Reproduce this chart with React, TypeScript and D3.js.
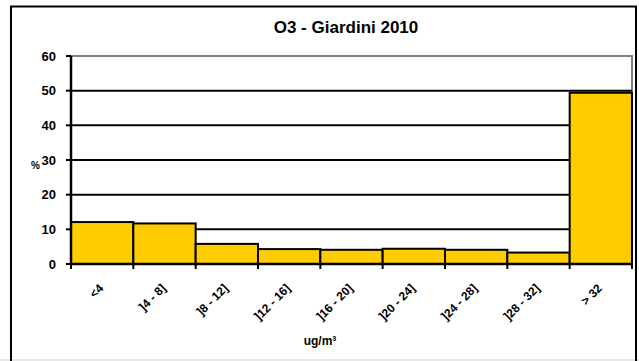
import * as d3 from "d3"

const categories = ["<4", "]4 - 8]", "]8 - 12]", "]12 - 16]", "]16 - 20]", "]20 - 24]", "]24 - 28]", "]28 - 32]", "> 32"]
const percentages = [12.1, 11.7, 5.8, 4.3, 4.1, 4.4, 4.1, 3.3, 49.4]
const yTicks = [0, 10, 20, 30, 40, 50, 60]

const W = 639
const H = 361
const plot = { left: 71, right: 632, top: 56, bottom: 264 }
const font = "Arial, 'Liberation Sans', sans-serif"

export default function App() {
  const x = d3.scaleBand<string>().domain(categories).range([plot.left, plot.right]).padding(0)
  const y = d3.scaleLinear().domain([0, 60]).range([plot.bottom, plot.top])
  const bw = x.bandwidth()

  return (
    <svg width={W} height={H} style={{ position: "absolute", left: 0, top: 0 }} fontFamily={font}>
      <rect x={0} y={0} width={W} height={H} fill="#fff" />
      {/* outer frame */}
      <line x1={0} x2={W} y1={360} y2={360} stroke="#e8e8e8" strokeWidth={2} />
      <path d={`M11,370 V6.5 H636 V370`} fill="none" stroke="#000" strokeWidth={2} />

      <text x={346} y={33} textAnchor="middle" fontSize={17} fontWeight="bold">
        O3 - Giardini 2010
      </text>

      {/* plot area border */}
      <path d={`M${plot.left},${plot.top} H${plot.right} V${plot.bottom}`} fill="none" stroke="#808080" strokeWidth={2} />

      {/* gridlines */}
      {yTicks
        .filter((t) => t > 0 && t < 60)
        .map((t) => (
          <line key={t} x1={plot.left} x2={plot.right} y1={y(t)} y2={y(t)} stroke="#000" strokeWidth={2} />
        ))}

      {/* bars */}
      {categories.map((c, i) => (
        <rect
          key={c}
          x={x(c)}
          y={y(percentages[i])}
          width={bw}
          height={y(0) - y(percentages[i])}
          fill="#FFCC00"
          stroke="#000"
          strokeWidth={2}
        />
      ))}

      {/* y axis */}
      <line x1={plot.left} x2={plot.left} y1={plot.top} y2={plot.bottom} stroke="#000" strokeWidth={2.5} />
      {yTicks.map((t) => (
        <g key={t}>
          <line x1={plot.left - 5} x2={plot.left} y1={y(t)} y2={y(t)} stroke="#000" strokeWidth={2} />
          <text x={56} y={y(t) + 4.5} textAnchor="end" fontSize={13} fontWeight="bold">
            {t}
          </text>
        </g>
      ))}
      <text x={31} y={169} fontSize={10} fontWeight="bold">
        %
      </text>

      {/* x axis */}
      <line x1={plot.left} x2={plot.right} y1={plot.bottom} y2={plot.bottom} stroke="#000" strokeWidth={2.5} />
      {[...categories.map((c) => x(c) as number), plot.right].map((v, i) => (
        <line key={i} x1={v} x2={v} y1={plot.bottom} y2={plot.bottom + 5} stroke="#000" strokeWidth={2} />
      ))}
      {categories.map((c) => {
        const cx = (x(c) as number) + bw / 2 + 2
        return (
          <text
            key={c}
            x={cx}
            y={289}
            transform={`rotate(-45 ${cx} 289)`}
            textAnchor="end"
            fontSize={12}
            fontWeight="bold"
          >
            {c}
          </text>
        )
      })}

      <text x={320} y={345} textAnchor="middle" fontSize={12} fontWeight="bold">
        ug/m³
      </text>
    </svg>
  )
}
